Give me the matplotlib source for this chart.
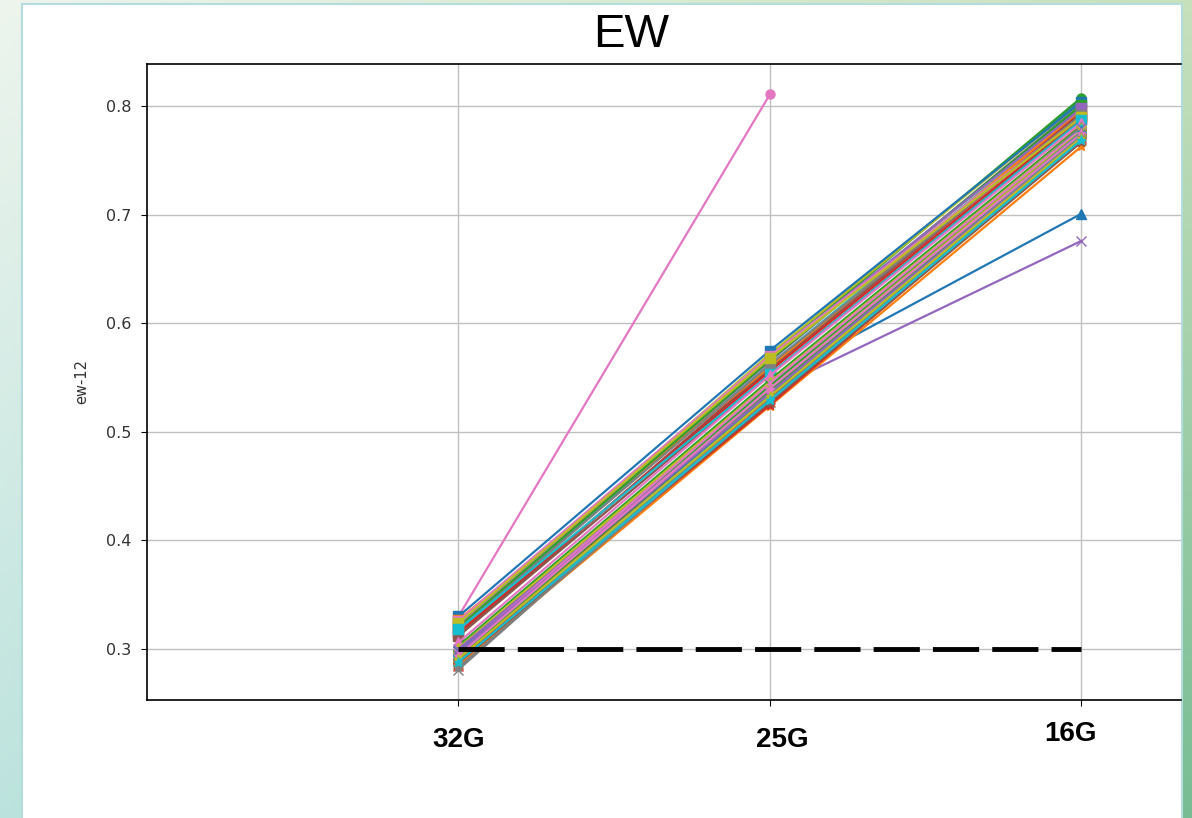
import numpy as np
import matplotlib
matplotlib.use("Agg")
import matplotlib.pyplot as plt
from matplotlib.patches import Rectangle
from matplotlib.transforms import blended_transform_factory

OUT = "out.png"

categories = ["32G", "25G", "16G"]
markers = ["o", "s", "^", "x", "*"]
threshold = 0.3

# one value per series (10 colours per marker group, groups in `markers` order)
ew_32g = [0.322, 0.316, 0.318, 0.312, 0.320, 0.314, 0.330, 0.317, 0.321, 0.319,
          0.330, 0.327, 0.320, 0.315, 0.323, 0.312, 0.326, 0.318, 0.324, 0.318,
          0.300, 0.296, 0.303, 0.293, 0.298, 0.291, 0.306, 0.295, 0.301, 0.297,
          0.298, 0.288, 0.295, 0.284, 0.300, 0.286, 0.296, 0.281, 0.293, 0.289,
          0.296, 0.285, 0.293, 0.290, 0.297, 0.287, 0.294, 0.283, 0.291, 0.288]
ew_25g = [0.571, 0.566, 0.568, 0.560, 0.565, 0.558, 0.811, 0.567, 0.572, 0.562,
          0.575, 0.560, 0.566, 0.556, 0.569, 0.553, 0.570, 0.562, 0.568, 0.553,
          0.547, 0.540, 0.548, 0.536, 0.545, 0.533, 0.552, 0.541, 0.546, 0.543,
          0.537, 0.532, 0.543, 0.530, 0.538, 0.528, 0.545, 0.535, 0.540, 0.534,
          0.535, 0.524, 0.538, 0.525, 0.536, 0.527, 0.540, 0.530, 0.533, 0.529]
ew_16g = [0.806, 0.800, 0.808, 0.795, 0.802, 0.793, np.nan, 0.799, 0.804, 0.797,
          0.804, 0.797, 0.801, 0.790, 0.798, 0.788, 0.791, 0.792, 0.790, 0.787,
          0.701, 0.783, 0.782, 0.778, 0.780, 0.775, 0.785, 0.781, 0.780, 0.779,
          0.780, 0.774, 0.778, 0.771, 0.676, 0.769, 0.779, 0.776, 0.777, 0.773,
          0.776, 0.763, 0.775, 0.770, 0.772, 0.767, 0.775, 0.772, 0.771, 0.769]

W, H = 1192, 818
fig = plt.figure(figsize=(W / 100, H / 100), dpi=100)

# slide background: soft green/teal gradient + white panel
bg = fig.add_axes([0, 0, 1, 1], zorder=-10)
bg.set_axis_off()
tl = np.array([0.93, 0.96, 0.93])
tr = np.array([0.78, 0.88, 0.74])
bl = np.array([0.74, 0.89, 0.87])
br = np.array([0.47, 0.74, 0.58])
u = np.linspace(0, 1, 200)[None, :, None]
v = np.linspace(0, 1, 140)[:, None, None]
grad = (1 - v) * ((1 - u) * tl + u * tr) + v * ((1 - u) * bl + u * br)
bg.imshow(grad, extent=[0, W, 0, H], origin="upper", aspect="auto")
bg.add_patch(Rectangle((22, -5), 1160, H - 4 + 5, facecolor="white",
                       edgecolor="#b5dcdc", lw=1.5))
bg.set_xlim(0, W)
bg.set_ylim(0, H)

ax = fig.add_axes([147 / W, (H - 700) / H, (1181 - 147) / W, (700 - 64) / H])
ax.set_facecolor("white")

colors = plt.get_cmap("tab10").colors
x = np.arange(len(categories))
for i in range(len(ew_32g)):
    ax.plot(x, [ew_32g[i], ew_25g[i], ew_16g[i]], color=colors[i % 10],
            marker=markers[i // 10], lw=1.6, ms=6.5)

ax.plot([x[0], x[-1]], [threshold, threshold], color="black", lw=3.5,
        dashes=(9.5, 2.7), zorder=5)

ax.set_xlim(-1.0, 2.32)
ax.set_ylim(0.253, 0.839)
ax.set_yticks([0.3, 0.4, 0.5, 0.6, 0.7, 0.8])
ax.set_xticks(x)
ax.set_xticklabels([])
ax.tick_params(axis="y", labelsize=11.5, labelcolor="#333333", length=4.5, pad=7)
ax.tick_params(axis="x", length=4.5)
ax.grid(True, color="#c0c0c0", lw=1)
ax.set_axisbelow(True)
ax.spines["right"].set_visible(False)
for s in ["left", "top", "bottom"]:
    ax.spines[s].set_linewidth(1.2)
ax.set_ylabel("ew-12", fontsize=10.5, color="#333333", labelpad=12)

# category labels sit a bit off their ticks in the original slide
trans = blended_transform_factory(ax.transData, fig.transFigure)
label_dx = [0.0, 0.04, -0.036]
label_y = [(H - 740) / H, (H - 740) / H, (H - 734) / H]
for xi, lab, dx, yy in zip(x, categories, label_dx, label_y):
    ax.text(xi + dx, yy, lab, transform=trans, ha="center", va="center",
            fontsize=20, fontweight="bold",
            family=["Liberation Sans", "DejaVu Sans"])

fig.text(631 / W, (H - 35) / H, "EW", ha="center", va="center",
         fontsize=34, family=["Liberation Sans", "DejaVu Sans"])

fig.savefig(OUT, dpi=100)
